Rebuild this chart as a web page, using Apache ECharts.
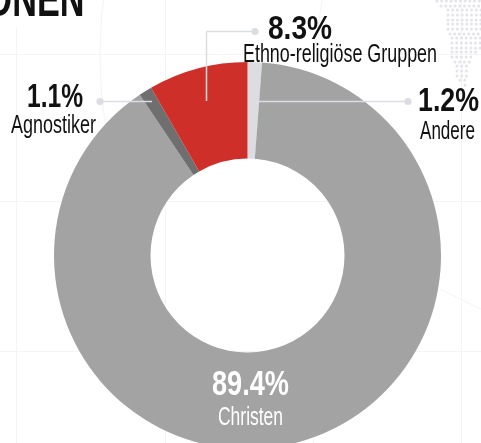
<!DOCTYPE html>
<html>
<head>
<meta charset="utf-8">
<style>html,body{margin:0;padding:0;background:#fff}#c{width:481px;height:443px;overflow:hidden}</style>
<script src="https://cdn.jsdelivr.net/npm/echarts@6/dist/echarts.min.js"></script>
</head>
<body>
<div id="c"></div>
<script>
// Religious affiliation shares, in percent
const categories = ['Andere', 'Christen', 'Agnostiker', 'Ethno-religiöse Gruppen'];
const shares = [1.2, 89.4, 1.1, 8.3];
const sliceColors = ['#dcdde3', '#a3a3a3', '#6f6f6f', '#cf2f29'];
const heading = 'RELIGIONEN';

const FAMILY = '"Liberation Sans", sans-serif';
const LINE = '#dcdde3';
const FAINT = '#f4f4f6';
const measure = document.createElement('canvas').getContext('2d');

function pct(i) { return shares[i].toFixed(1) + '%'; }

// Condensed text: the glyphs are squeezed horizontally to a given run width
function label(text, cx, baseline, size, width, color, weight) {
  const font = (weight || 'normal') + ' ' + size + 'px ' + FAMILY;
  measure.font = font;
  return {
    type: 'text', x: cx, y: baseline + size * 0.16,
    scaleX: width / measure.measureText(text).width, scaleY: 1, z: 20, silent: true,
    style: { text: text, x: 0, y: 0, fill: color, align: 'center', verticalAlign: 'bottom', font: font }
  };
}
function seg(x1, y1, x2, y2, color, z, w) {
  return { type: 'line', z: z, silent: true,
    shape: { x1: x1, y1: y1, x2: x2, y2: y2 },
    style: { stroke: color, lineWidth: w || 1, fill: null } };
}
function dot(x, y) {
  return { type: 'circle', z: 12, silent: true, shape: { cx: x, cy: y, r: 3.6 }, style: { fill: LINE } };
}

// Faint page grid behind the ring
const backdrop = [
  seg(16.5, 28, 16.5, 443, FAINT, 1), seg(165.5, 0, 165.5, 443, FAINT, 1),
  seg(461.5, 0, 461.5, 443, FAINT, 1), seg(313.5, 340, 313.5, 443, FAINT, 1),
  seg(0, 54.5, 481, 54.5, FAINT, 1), seg(0, 201.5, 481, 201.5, FAINT, 1),
  seg(0, 351.5, 481, 351.5, FAINT, 1), seg(440, 289, 481, 309, FAINT, 1),
  seg(322, 0, 314, 54, FAINT, 1),
  { type: 'arc', z: 1, silent: true,
    shape: { cx: 590, cy: 55, r: 490, startAngle: Math.PI - 0.16, endAngle: Math.PI + 0.16 },
    style: { stroke: FAINT, lineWidth: 1, fill: null } }
];

// Dotted landmass in the top right corner: [row y, first x, last x]
const mapRows = [
  [1, 437, 481], [6, 441, 481], [10, 448, 481], [15, 448, 481], [20, 448, 481],
  [24, 448, 481], [29, 448, 481], [34, 450, 481], [38, 452, 481], [43, 452, 481],
  [48, 452, 481], [52, 452, 477], [57, 452, 473], [62, 455, 473], [66, 457, 468],
  [71, 457, 468], [76, 457, 468], [80, 460, 468], [85, 465, 467]
];
const mapDots = [];
mapRows.forEach(function (r) {
  for (let x = r[1]; x <= r[2]; x += 4.7) {
    mapDots.push({ type: 'circle', z: 1, silent: true, shape: { cx: x, cy: r[0], r: 1.5 }, style: { fill: '#e3e4e9' } });
  }
});

const leaders = [
  seg(100, 101.5, 152, 101.5, LINE, 11, 1.5),
  seg(255, 31.5, 206.5, 31.5, LINE, 11, 1.5),
  seg(206.5, 31.5, 206.5, 101, LINE, 11, 1.5),
  seg(408, 101.5, 259, 101.5, LINE, 11, 1.5),
  dot(100, 101.5), dot(255, 31.5), dot(408, 101.5)
];

const INK = '#111111';
const texts = [
  label(heading, -22, 19.5, 50, 213, INK, 'bold'),
  label(pct(3), 300, 41, 34, 64, INK, 'bold'),
  label(categories[3], 340, 64, 25.5, 194, INK),
  label(pct(0), 448.5, 113.5, 34, 61, INK, 'bold'),
  label(categories[0], 447.5, 140.5, 25.5, 55, INK),
  label(pct(2), 55, 109.5, 34, 56, INK, 'bold'),
  label(categories[2], 53.5, 135, 25.5, 85, INK),
  label(pct(1), 250.5, 397.5, 35.5, 77, '#ffffff', 'bold'),
  label(categories[1], 250.5, 427, 26.5, 65, '#ffffff')
];

const chart = echarts.init(document.getElementById('c'), null, { renderer: 'canvas' });
chart.setOption({
  animation: false,
  backgroundColor: '#ffffff',
  graphic: { elements: backdrop.concat(mapDots, leaders, texts) },
  series: [{
    type: 'pie',
    z: 5,
    silent: true,
    center: [247.5, 255.5],
    radius: [97, 193.5],
    startAngle: 90,
    clockwise: true,
    label: { show: false },
    labelLine: { show: false },
    data: categories.map(function (name, i) {
      return { name: name, value: shares[i], itemStyle: { color: sliceColors[i] } };
    })
  }]
});
</script>
</body>
</html>
